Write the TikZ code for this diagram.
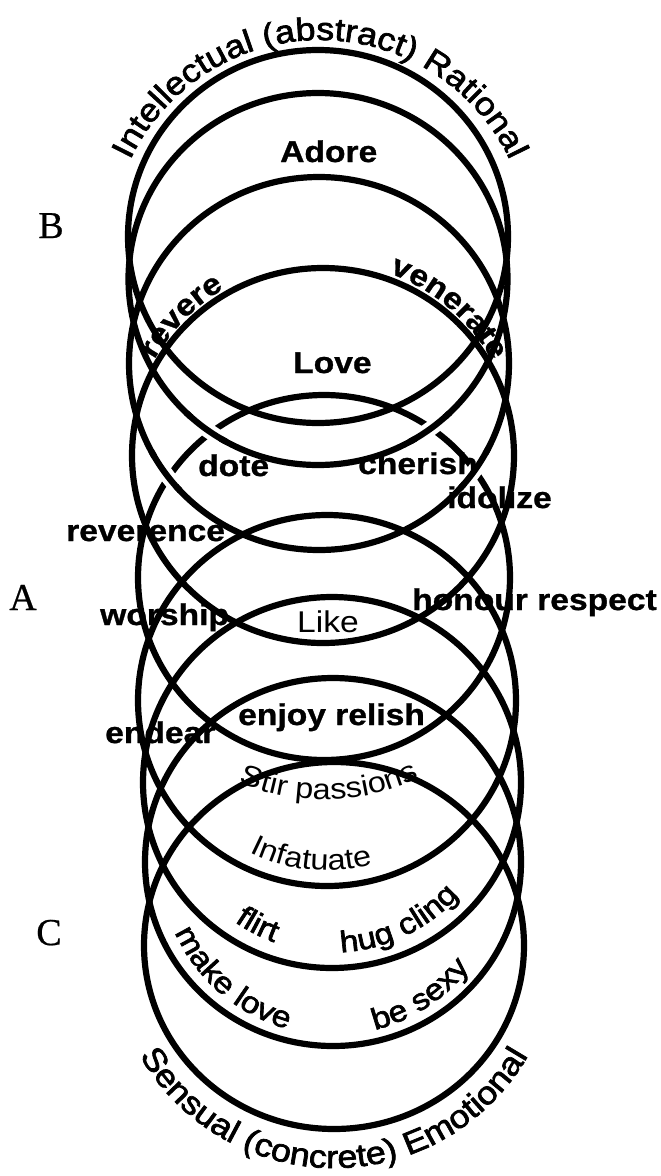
\documentclass[tikz,border=0pt]{standalone}
\usepackage{fontspec}
\usetikzlibrary{decorations.text}
\newfontfamily\lsans[FakeStretch=1.12]{Liberation Sans}
\newfontfamily\lsansb[FakeStretch=1.12,FakeBold=1.0]{Liberation Sans}
\newfontfamily\lsansm[FakeStretch=1.12,FakeBold=2.2]{Liberation Sans}
\newfontfamily\lserif[FakeBold=0.6]{Liberation Serif}
\newcommand\fntB{\lsansb\bfseries\fontsize{30}{30}\selectfont}
\newcommand\fntM{\lsansm\fontsize{30}{30}\selectfont}
\newcommand\fntR{\lsans\fontsize{29}{29}\selectfont}
\newcommand\fntA{\lsansm\fontsize{32}{32}\selectfont}
\begin{document}
\begin{tikzpicture}[x=1pt,y=-1pt,
  ring/.style={line width=6.2pt},
  gapw/.style={white, line width=15pt},
  blab/.style={font=\fntB, inner sep=0pt, anchor=base west},
  letter/.style={font=\lserif\fontsize{38}{38}\selectfont, inner sep=0pt, anchor=base}]
\useasboundingbox (0,0) rectangle (661,1176);
\fill[white] (0,0) rectangle (661,1176);

% rings
\draw[ring] (318,236.5) ellipse [x radius=190pt, y radius=186.5pt];
\draw[ring] (318,279)   ellipse [x radius=189.5pt, y radius=186pt];
\draw[ring] (319,363.5) ellipse [x radius=190pt, y radius=186.5pt];
\draw[ring] (323,455.5) ellipse [x radius=191pt, y radius=187.5pt];
\draw[ring] (324,577.5) ellipse [x radius=186pt, y radius=182.5pt];
\draw[ring] (327,700.5) ellipse [x radius=189pt, y radius=185.5pt];
\draw[ring] (332,782.5) ellipse [x radius=189pt, y radius=185.5pt];
\draw[ring] (333,862)   ellipse [x radius=188pt, y radius=184pt];
\draw[ring] (334,945.5) ellipse [x radius=190pt, y radius=183.5pt];

% interlacing: ring 2 and ring 3 pass over ring 5
\foreach \a/\b in {121/132, 48/59} {
  \draw[gapw] ([shift={(318,279)}]\a:189.5 and 186) arc[start angle=\a, end angle=\b, x radius=189.5, y radius=186];
  \draw[ring] ([shift={(318,279)}]\a-2:189.5 and 186) arc[start angle=\a-2, end angle=\b+2, x radius=189.5, y radius=186];
}
\foreach \a/\b in {139/150, 29/40} {
  \draw[gapw] ([shift={(319,363.5)}]\a:190 and 186.5) arc[start angle=\a, end angle=\b, x radius=190, y radius=186.5];
  \draw[ring] ([shift={(319,363.5)}]\a-2:190 and 186.5) arc[start angle=\a-2, end angle=\b+2, x radius=190, y radius=186.5];
}

% side letters
\node[letter] (labB) at (51,238) {B};
\node[letter] (labA) at (23,610) {A};
\node[letter] (labC) at (49,945) {C};

% straight labels
\node[blab] (adore) at (280,162) {Adore};
\node[blab] (love) at (293,373) {Love};
\node[blab] (dote) at (198,476) {dote};
\node[blab] (cherish) at (358,474) {cherish};
\node[blab] (idolize) at (447,508) {idolize};
\node[blab] (reverence) at (66,541) {reverence};
\node[blab] (worship) at (100,625) {worship};
\node[blab] (honour) at (412,610) {honour respect};
\node[blab] (endear) at (105,743) {endear};
\node[blab] (enjoy) at (238,725) {enjoy relish};
\node[font=\lsans\fontsize{30}{30}\selectfont, inner sep=0pt, anchor=base west] (like) at (297,632) {Like};

% curved labels
\path[decorate, decoration={text along path, text align=center,
  text={|\fntA|Intellectual (abstract) Rational}}]
  ([shift={(320,250)}]-170:210) arc[start angle=-170, end angle=-10, radius=210];
\path[decorate, decoration={text along path, text align=center,
  text={|\fntA|Sensual (concrete) Emotional}}]
  ([shift={(334,944)}]160:224) arc[start angle=160, end angle=20, radius=224];
\path[decorate, decoration={text along path, text align=center,
  text={|\fntB|revere}}]
  ([shift={(323,455.5)}]-160:194) arc[start angle=-160, end angle=-111, radius=194];
\path[decorate, decoration={text along path, text align=left,
  text={|\fntB|venerate}}]
  ([shift={(323,455.5)}]-70:194) arc[start angle=-70, end angle=0, radius=194];
\path[decorate, decoration={text along path, text align=center,
  text={|\fntR|Stir passions}}]
  ([shift={(324,577.5)}]133.5:222) arc[start angle=133.5, end angle=43.5, radius=222];
\path[decorate, decoration={text along path, text align=left,
  text={|\fntR|Infatuate}}]
  ([shift={(327,700.5)}]117:170) arc[start angle=117, end angle=40, radius=170];
\path[decorate, decoration={text along path, text align=left,
  text={|\fntM|flirt}}]
  ([shift={(332,782.5)}]125:170) arc[start angle=125, end angle=60, radius=170];
\path[decorate, decoration={text along path, text align=left,
  text={|\fntM|hug cling}}]
  ([shift={(332,782.5)}]87:170) arc[start angle=87, end angle=20, radius=170];
\path[decorate, decoration={text along path, text align=left,
  text={|\fntM|make love}}]
  ([shift={(333,862)}]156:173) arc[start angle=156, end angle=95, radius=173];
\path[decorate, decoration={text along path, text align=left,
  text={|\fntM|be sexy}}]
  ([shift={(333,862)}]76:173) arc[start angle=76, end angle=15, radius=173];
\end{tikzpicture}
\end{document}
